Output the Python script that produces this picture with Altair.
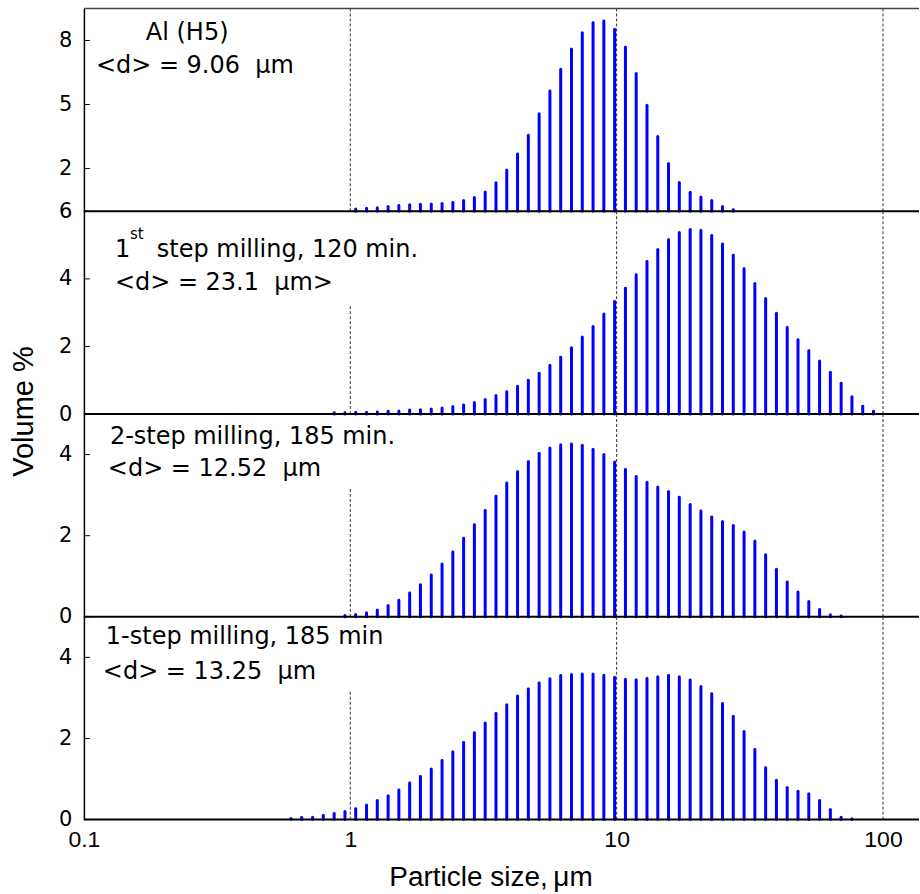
import altair as alt
import pandas as pd

sizes = [0.599, 0.657, 0.722, 0.792, 0.870, 0.955, 1.048, 1.151, 1.263, 1.387,
         1.522, 1.671, 1.834, 2.014, 2.211, 2.427, 2.664, 2.924, 3.210, 3.524,
         3.868, 4.246, 4.661, 5.117, 5.617, 6.166, 6.768, 7.430, 8.156, 8.953,
         9.827, 10.79, 11.84, 13.00, 14.27, 15.66, 17.19, 18.88, 20.72, 22.75,
         24.97, 27.41, 30.09, 33.03, 36.26, 39.80, 43.69, 47.96, 52.65, 57.79,
         63.44, 69.64, 76.44, 83.92, 92.12]

# Panel 1: Al (H5) powder, first bar at sizes[6]
al_first = 6
al_vol = [0.11, 0.14, 0.17, 0.22, 0.27, 0.30, 0.33, 0.34, 0.36, 0.41,
          0.50, 0.64, 0.90, 1.34, 1.93, 2.68, 3.56, 4.57, 5.63, 6.65,
          7.60, 8.36, 8.83, 8.91, 8.53, 7.69, 6.45, 4.97, 3.50, 2.24,
          1.35, 0.89, 0.67, 0.50, 0.22, 0.07]

# Panel 2: 1st step milling, 120 min, first bar at sizes[4]
m1_first = 4
m1_vol = [0.04, 0.04, 0.05, 0.05, 0.06, 0.08, 0.09, 0.12, 0.13, 0.15,
          0.18, 0.22, 0.27, 0.34, 0.43, 0.54, 0.66, 0.82, 1.00, 1.21,
          1.44, 1.68, 1.96, 2.28, 2.59, 2.96, 3.33, 3.72, 4.12, 4.51,
          4.87, 5.16, 5.37, 5.46, 5.43, 5.28, 5.03, 4.70, 4.30, 3.86,
          3.42, 2.98, 2.56, 2.20, 1.87, 1.57, 1.24, 0.91, 0.51, 0.23,
          0.08]

# Panel 3: 2-step milling, 185 min, first bar at sizes[5]
m2_first = 5
m2_vol = [0.03, 0.06, 0.10, 0.17, 0.28, 0.41, 0.59, 0.79, 1.03, 1.30,
          1.60, 1.94, 2.27, 2.62, 2.97, 3.30, 3.58, 3.83, 4.03, 4.16,
          4.24, 4.26, 4.23, 4.13, 4.00, 3.82, 3.63, 3.46, 3.32, 3.20,
          3.09, 2.95, 2.77, 2.61, 2.46, 2.35, 2.25, 2.09, 1.87, 1.53,
          1.17, 0.86, 0.61, 0.38, 0.18, 0.05, 0.02]

# Panel 4: 1-step milling, 185 min, first bar at sizes[0]
o1_first = 0
o1_vol = [0.03, 0.05, 0.06, 0.10, 0.15, 0.20, 0.27, 0.36, 0.47, 0.59,
          0.73, 0.90, 1.06, 1.25, 1.46, 1.67, 1.90, 2.14, 2.38, 2.62,
          2.83, 3.05, 3.22, 3.37, 3.47, 3.55, 3.58, 3.59, 3.59, 3.55,
          3.51, 3.46, 3.45, 3.48, 3.52, 3.55, 3.52, 3.44, 3.28, 3.10,
          2.86, 2.55, 2.17, 1.73, 1.28, 0.97, 0.79, 0.70, 0.64, 0.47,
          0.25, 0.06, 0.02]

# Axes
y_max = [9.5, 6, 5, 5]
y_ticks = [[2, 5, 8], [0, 2, 4, 6], [0, 2, 4], [0, 2, 4]]
x_ticks = [0.1, 1, 10, 100]
x_domain = [0.1, 136.5]

# Dotted reference lines at 1, 10, 100 µm (top of each line, in Volume %)
ref_x = [1, 10, 100]
ref_top = [[9.5, 9.5, 9.5], [3.25, 6, 6], [3.2, 5, 5], [3.2, 5, 5]]

# Annotations: (text, x in µm, y in Volume %)
labels = [
    [("Al (H5)", 0.1708, 8.03), ("<d> = 9.06\u00a0\u00a0\u03bcm", 0.1109, 6.49)],
    [("1", 0.1307, 4.64), ("step milling, 120 min.", 0.1878, 4.64),
     ("<d> = 23.1\u00a0\u00a0\u03bcm>", 0.1307, 3.66)],
    [("2-step milling, 185 min.", 0.1252, 4.26), ("<d> = 12.52\u00a0\u00a0\u03bcm", 0.1230, 3.48)],
    [("1-step milling, 185 min", 0.1209, 4.32), ("<d> = 13.25\u00a0\u00a0\u03bcm", 0.1178, 3.46)],
]
sup_labels = [[], [("st", 0.1488, 5.17)], [], []]

series = [(al_first, al_vol), (m1_first, m1_vol), (m2_first, m2_vol), (o1_first, o1_vol)]

FONT_T = "DejaVu Sans"
FONT_A = "Liberation Sans"
BLUE = "#0000ff"
W, H = 836, 203

xscale = alt.Scale(type="log", domain=x_domain, nice=False)


def panel(i):
    first, vol = series[i]
    df = pd.DataFrame({"x": sizes[first:first + len(vol)], "y": vol, "y0": [0] * len(vol)})
    yscale = alt.Scale(domain=[0, y_max[i]], nice=False, zero=False)

    yaxis_kw = dict(values=y_ticks[i], ticks=False, tickSize=0, domain=True,
                    domainColor="black", domainWidth=1.5, grid=False,
                    labelFont=FONT_T, labelFontSize=21, labelColor="black",
                    labelPadding=12, labelBaseline="middle")
    if i == 1:
        yaxis_kw.update(titleFont=FONT_A, titleFontSize=29, titleFontWeight="normal",
                        titleColor="black", titleX=-51, titleY=200, titleAngle=270,
                        titleAlign="center", titleBaseline="alphabetic")
        ytitle = "Volume %"
    else:
        ytitle = None
    yaxis = alt.Axis(**yaxis_kw)

    if i == 3:
        xaxis = alt.Axis(values=x_ticks, format="~g", ticks=False, tickSize=0,
                         domain=False, grid=False, labelFlush=False,
                         labelFont=FONT_A, labelFontSize=23, labelColor="black",
                         labelPadding=9, labelBaseline="top",
                         titleFont=FONT_A, titleFontSize=28, titleFontWeight="normal",
                         titleColor="black", titleX=407, titleY=66,
                         titleAlign="center", titleBaseline="alphabetic")
        xtitle = "Particle size,\u2009\u03bcm"
    else:
        xaxis = None
        xtitle = None

    def X():
        return alt.X("x:Q", scale=xscale, axis=xaxis, title=xtitle)

    def Y():
        return alt.Y("y:Q", scale=yscale, axis=yaxis, title=ytitle)

    bars = alt.Chart(df).mark_rule(color=BLUE, strokeWidth=3, strokeCap="round").encode(
        x=X(), y=Y(), y2="y0:Q",
    )

    ref_df = pd.DataFrame({"x": ref_x, "y": [0] * len(ref_x), "y2": ref_top[i]})
    refs = alt.Chart(ref_df).mark_rule(color="#333333", strokeWidth=1, strokeDash=[3, 2]).encode(
        x=X(), y=Y(), y2="y2:Q",
    )

    base_df = pd.DataFrame({"y": [0]})
    base = alt.Chart(base_df).mark_rule(color="black", strokeWidth=2).encode(y=Y())

    tick_df = pd.DataFrame({"y": y_ticks[i]})
    ticks = alt.Chart(tick_df).mark_rule(color="black", strokeWidth=1).encode(
        y=Y(), x=alt.value(0), x2=alt.value(6),
    )

    txt_df = pd.DataFrame(labels[i], columns=["label", "x", "y"])
    texts = alt.Chart(txt_df).mark_text(align="left", baseline="alphabetic", font=FONT_T,
                                        fontSize=24, color="black").encode(
        x=X(), y=Y(), text="label:N",
    )

    layers = [bars, refs, base, ticks, texts]

    if sup_labels[i]:
        sup_df = pd.DataFrame(sup_labels[i], columns=["label", "x", "y"])
        sup = alt.Chart(sup_df).mark_text(align="left", baseline="alphabetic", font=FONT_T,
                                          fontSize=15, color="black").encode(
            x=X(), y=Y(), text="label:N",
        )
        layers.append(sup)

    if i == 0:
        top_df = pd.DataFrame({"y": [y_max[0]]})
        top = alt.Chart(top_df).mark_rule(color="#444444", strokeWidth=1.5).encode(y=Y())
        layers.append(top)

    return alt.layer(*layers).properties(width=W, height=H)


chart = alt.vconcat(panel(0), panel(1), panel(2), panel(3), spacing=0, bounds="flush").properties(
    padding={"left": 10, "top": 7, "right": 0, "bottom": 0},
    background="white",
).configure_view(stroke=None)

chart.save("out.html", embed_options={"renderer": "svg", "actions": False})
